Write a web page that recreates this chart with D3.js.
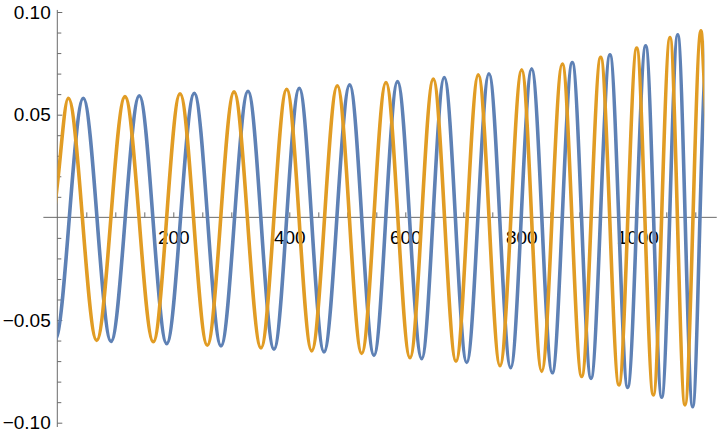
<!DOCTYPE html>
<html>
<head>
<meta charset="utf-8">
<script src="https://cdn.jsdelivr.net/npm/d3@7"></script>
<style>
  body { margin: 0; background: #fff; }
  svg text { font-family: "Liberation Sans", Arial, sans-serif; }
</style>
</head>
<body>
<svg id="chart"></svg>
<script>
const width = 720, height = 438;

// Turning points (x, value)
const bluePeakX = [-52.5, 44.8, 141.4, 236.2, 328.8, 417.2, 504.1, 586.6, 667.2, 744.3, 817.9, 887.9, 952.9, 1014.5, 1069.7];
const bluePeakY = [0.0575, 0.0580, 0.0592, 0.0604, 0.0614, 0.0629, 0.0645, 0.0661, 0.0681, 0.0699, 0.0723, 0.0754, 0.0792, 0.0835, 0.0889];
const blueTroughX = [-3.7, 92.6, 188.6, 282.2, 373.6, 459.8, 546.0, 628.3, 705.9, 781.7, 853.4, 920.2, 983.4, 1042.1, 1095.5];
const blueTroughY = [-0.0595, -0.0604, -0.0615, -0.0626, -0.0642, -0.0655, -0.0672, -0.0688, -0.0707, -0.0732, -0.0757, -0.0784, -0.0828, -0.0876, -0.0922];
const blueEnds = [[1115.5, 0.066], [1121, 0.093]];

const orangePeakX = [-78.5, 19.0, 116.7, 211.6, 304.7, 395.5, 482.8, 566.7, 648.3, 725.9, 800.7, 870.7, 936.9, 999.0, 1056.4, 1109.8];
const orangePeakY = [0.0575, 0.0580, 0.0588, 0.0602, 0.0611, 0.0624, 0.0641, 0.0657, 0.0673, 0.0694, 0.0718, 0.0747, 0.0780, 0.0824, 0.0876, 0.0908];
const orangeTroughX = [-29.8, 67.9, 165.5, 258.6, 351.2, 438.6, 524.8, 608.1, 687.4, 763.3, 835.2, 904.1, 968.4, 1027.6, 1082.2, 1136];
const orangeTroughY = [-0.0595, -0.0599, -0.0606, -0.0623, -0.0636, -0.0650, -0.0663, -0.0684, -0.0701, -0.0723, -0.0750, -0.0775, -0.0816, -0.0865, -0.0913, -0.094];
const orangeEnds = [[0, 0.0157], [1115.5, 0.065]];

const xRange = [0, 1115.5];           // plotted interval
const xMajor = [200, 400, 600, 800, 1000];
const yMajor = [-0.10, -0.05, 0.05, 0.10];

const blueColor = "#5e81b5", orangeColor = "#e19c24", axisColor = "#6b6b6b";

function buildSeries(px, py, tx, ty, extra) {
  const pts = px.map((x, i) => [x, py[i]])
    .concat(tx.map((x, i) => [x, ty[i]]))
    .concat(extra);
  return pts.sort((a, b) => a[0] - b[0]);
}
const blue = buildSeries(bluePeakX, bluePeakY, blueTroughX, blueTroughY, blueEnds);
const orange = buildSeries(orangePeakX, orangePeakY, orangeTroughX, orangeTroughY, orangeEnds);

const svg = d3.select("#chart").attr("width", width).attr("height", height);

const x = d3.scaleLinear().domain([0, 1000]).range([57.3, 637.3]);
const y = d3.scaleLinear().domain([-0.1, 0.1]).range([422.7, 12]);

// axis lines (Mathematica pads the range a little)
svg.append("line")
  .attr("x1", x(-24)).attr("x2", x(1137))
  .attr("y1", y(0)).attr("y2", y(0))
  .attr("stroke", axisColor).attr("stroke-width", 1);
svg.append("line")
  .attr("x1", x(0)).attr("x2", x(0))
  .attr("y1", y(-0.1021)).attr("y2", y(0.101))
  .attr("stroke", axisColor).attr("stroke-width", 1);

// x ticks
const xMinor = d3.range(50, 1101, 50).filter(v => !xMajor.includes(v));
const xMinorG = svg.append("g").attr("transform", `translate(0,${y(0)})`)
  .call(d3.axisBottom(x).tickValues(xMinor).tickSize(-5).tickFormat(""));
const xAxisG = svg.append("g").attr("transform", `translate(0,${y(0)})`)
  .call(d3.axisBottom(x).tickValues(xMajor).tickSize(-5).tickSizeOuter(0)
    .tickPadding(13.5).tickFormat(d3.format("d")));

// y ticks
const yMinor = d3.range(-10, 11).filter(v => v !== 0 && v % 5 !== 0).map(v => v / 100);
const yMinorG = svg.append("g").attr("transform", `translate(${x(0)},0)`)
  .call(d3.axisLeft(y).tickValues(yMinor).tickSize(-4).tickFormat(""));
const yAxisG = svg.append("g").attr("transform", `translate(${x(0)},0)`)
  .call(d3.axisLeft(y).tickValues(yMajor).tickSize(-5).tickSizeOuter(0)
    .tickPadding(6.6).tickFormat(d3.format(".2f")));

[xMinorG, xAxisG, yMinorG, yAxisG].forEach(g => {
  g.select(".domain").remove();
  g.selectAll(".tick line").attr("stroke", axisColor);
  g.selectAll("text").attr("fill", "#000").attr("font-size", 19)
    .attr("font-family", "'Liberation Sans', Arial, sans-serif");
});

// curves, clipped to the plotted interval
svg.append("clipPath").attr("id", "clip")
  .append("rect")
  .attr("x", x(xRange[0])).attr("y", 0)
  .attr("width", x(xRange[1]) - x(xRange[0])).attr("height", height);

const line = d3.line()
  .x(d => x(d[0]))
  .y(d => y(d[1]))
  .curve(d3.curveMonotoneX);

const curves = svg.append("g").attr("clip-path", "url(#clip)");
curves.append("path").datum(blue)
  .attr("d", line).attr("fill", "none")
  .attr("stroke", blueColor).attr("stroke-width", 3.6);
curves.append("path").datum(orange)
  .attr("d", line).attr("fill", "none")
  .attr("stroke", orangeColor).attr("stroke-width", 3.6);
</script>
</body>
</html>
